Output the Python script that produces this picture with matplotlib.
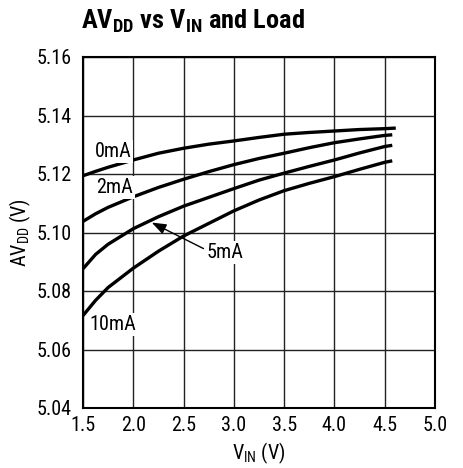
import matplotlib
matplotlib.use("Agg")
import matplotlib.pyplot as plt

# ---- data ----
vin = [1.5, 1.625, 1.75, 2.0, 2.25, 2.5, 2.75, 3.0, 3.25, 3.5, 3.75, 4.0, 4.25, 4.5]
av_0mA = [5.1194, 5.1209, 5.1223, 5.1248, 5.1271, 5.1288, 5.1302, 5.1313, 5.1325, 5.1336, 5.1342, 5.1347, 5.1352, 5.1355]
av_2mA = [5.1038, 5.1064, 5.1086, 5.1122, 5.1154, 5.1182, 5.1208, 5.1232, 5.1253, 5.1271, 5.1290, 5.1307, 5.1320, 5.1332]
av_5mA = [5.0876, 5.0925, 5.0960, 5.1013, 5.1054, 5.1090, 5.1120, 5.1150, 5.1179, 5.1203, 5.1226, 5.1248, 5.1272, 5.1294]
av_10mA = [5.0716, 5.0768, 5.0812, 5.0878, 5.0936, 5.0988, 5.1031, 5.1074, 5.1111, 5.1143, 5.1168, 5.1191, 5.1216, 5.1240]
end_x_0mA, end_y_0mA = 4.61, 5.1357
end_x = 4.575
end_y = {"2mA": 5.1334, "5mA": 5.1298, "10mA": 5.1245}

xticks = [1.5, 2.0, 2.5, 3.0, 3.5, 4.0, 4.5, 5.0]
xticklabels = ["1.5", "2.0", "2.5", "3.0", "3.5", "4.0", "4.5", "5.0"]
yticks = [5.04, 5.06, 5.08, 5.10, 5.12, 5.14, 5.16]
yticklabels = ["5.04", "5.06", "5.08", "5.10", "5.12", "5.14", "5.16"]

fam = "Roboto Condensed"
plt.rcParams["font.family"] = [fam, "DejaVu Sans"]
plt.rcParams["mathtext.fontset"] = "custom"
plt.rcParams["mathtext.rm"] = fam
plt.rcParams["mathtext.it"] = fam
plt.rcParams["mathtext.bf"] = fam + ":bold"

fig = plt.figure(figsize=(4.63, 4.68), dpi=100)
ax = fig.add_axes([83 / 463, 60 / 468, 352 / 463, 351 / 468])

lw = 2.4
ax.plot(vin + [end_x_0mA], av_0mA + [end_y_0mA], color="black", lw=lw, solid_capstyle="butt", zorder=3)
ax.plot(vin + [end_x], av_2mA + [end_y["2mA"]], color="black", lw=lw, solid_capstyle="butt", zorder=3)
ax.plot(vin + [end_x], av_5mA + [end_y["5mA"]], color="black", lw=lw, solid_capstyle="butt", zorder=3)
ax.plot(vin + [end_x], av_10mA + [end_y["10mA"]], color="black", lw=lw, solid_capstyle="butt", zorder=3)

ax.set_xlim(1.5, 5.0)
ax.set_ylim(5.04, 5.16)
ax.set_xticks(xticks)
ax.set_xticklabels(xticklabels)
ax.set_yticks(yticks)
ax.set_yticklabels(yticklabels)
fs = 14.5
ax.tick_params(axis="both", length=0, labelsize=fs)
ax.tick_params(axis="x", pad=6)
ax.tick_params(axis="y", pad=8)
ax.grid(True, color="#222222", lw=1.0, zorder=1)
ax.set_axisbelow(True)
for s in ax.spines.values():
    s.set_linewidth(1.5)
    s.set_color("black")

bbox = dict(facecolor="white", edgecolor="none", pad=1.5)
ax.text(1.615, 5.1276, "0mA", fontsize=fs, ha="left", va="center", bbox=bbox, zorder=4)
ax.text(1.63, 5.1155, "2mA", fontsize=fs, ha="left", va="center", bbox=bbox, zorder=4)
ax.text(1.565, 5.0684, "10mA", fontsize=fs, ha="left", va="center", bbox=bbox, zorder=4)
ax.annotate("5mA", xy=(2.183, 5.1034), xytext=(2.73, 5.0933), fontsize=fs,
            ha="left", va="center", bbox=bbox, zorder=4,
            arrowprops=dict(arrowstyle="-|>,head_length=0.6,head_width=0.22", color="black",
                            lw=1.0, shrinkA=1, shrinkB=0, relpos=(0, 0.6)))

ax.set_xlabel(r"V$_{\mathrm{IN}}$ (V)", fontsize=fs, labelpad=4)
ax.set_ylabel(r"AV$_{\mathrm{DD}}$ (V)", fontsize=fs, labelpad=3)

fig.text(81 / 463, 1 - 29 / 468, r"AV$_{\mathbf{DD}}$ vs V$_{\mathbf{IN}}$ and Load",
         fontsize=19, fontweight="bold", ha="left", va="baseline")

fig.savefig("out.png", dpi=100)
